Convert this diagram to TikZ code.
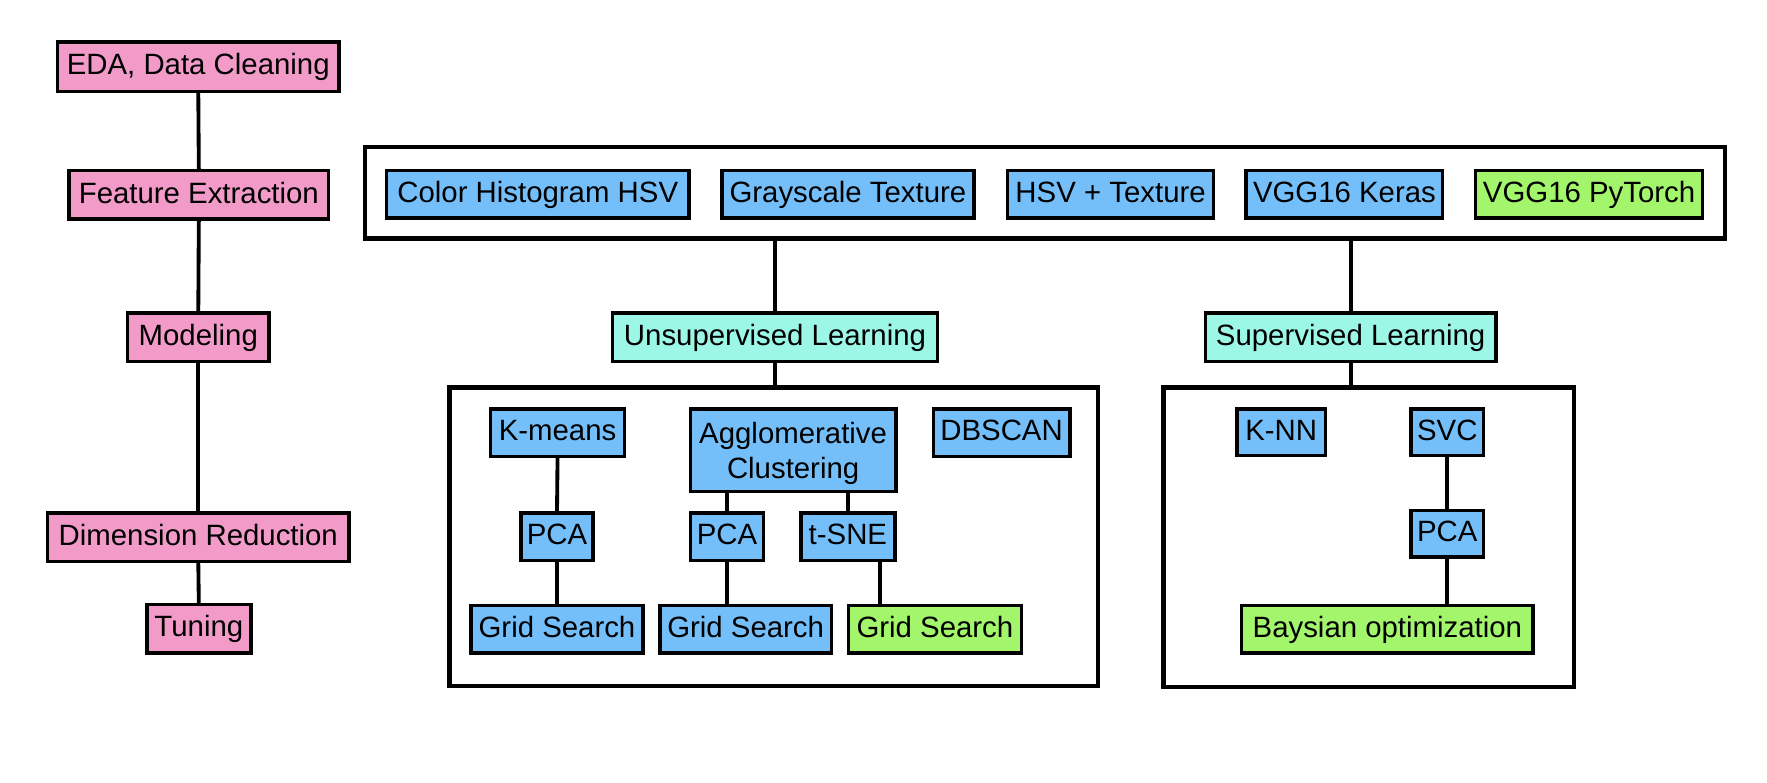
\documentclass[tikz,border=0pt]{standalone}
\usepackage{fontspec}
\setmainfont{Liberation Sans}
\definecolor{pinkc}{HTML}{F29BC9}
\definecolor{bluec}{HTML}{74BFF9}
\definecolor{aquac}{HTML}{9DF7E6}
\definecolor{greenc}{HTML}{A3F56B}
% \bxn{style}{name}{x1}{y1}{x2}{y2}{text}
\newcommand\bxn[7]{\node[#1, minimum width={(#5-#3)*0.5pt}, minimum height={(#6-#4)*0.5pt}] (#2) at ({(#3+#5)/2},{(#4+#6)/2}) {#7};}
\begin{document}
\begin{tikzpicture}[x=0.5pt,y=-0.5pt,
  bx/.style={draw=black, line width=1.5pt, inner sep=0pt, outer sep=0pt,
    font=\fontsize{13}{15.8}\selectfont, text height=0.72em, text depth=0pt},
  pinkbox/.style={bx, fill=pinkc},
  bluebox/.style={bx, fill=bluec},
  aquabox/.style={bx, fill=aquac},
  greenbox/.style={bx, fill=greenc},
  cont/.style={draw=black, line width=2pt, inner sep=0pt, outer sep=0pt},
  link/.style={draw=black, line width=1.7pt}]
\useasboundingbox[fill=white] (0,0) rectangle (1564,693);

% left pipeline
\bxn{pinkbox}{eda}{51}{37}{300}{81}{EDA, Data Cleaning}
\bxn{pinkbox}{fe}{61}{151}{291}{194}{Feature Extraction}
\bxn{pinkbox}{mod}{113}{277}{238}{320}{Modeling}
\bxn{pinkbox}{dr}{42}{454}{309}{497}{Dimension Reduction}
\bxn{pinkbox}{tun}{130}{535}{222}{578}{Tuning}

% feature container
\bxn{cont}{feat}{323}{130}{1527}{211}{}
\bxn{bluebox}{chh}{342}{151}{610}{193}{Color Histogram HSV}
\bxn{bluebox}{gst}{639}{151}{862}{193}{Grayscale Texture}
\bxn{bluebox}{hsvt}{892}{151}{1074}{193}{HSV + Texture}
\bxn{bluebox}{vggk}{1103}{151}{1277}{193}{VGG16 Keras}
\bxn{greenbox}{vggp}{1306}{151}{1507}{193}{VGG16 PyTorch}

% learning types
\bxn{aquabox}{unsup}{542}{277}{830}{320}{Unsupervised Learning}
\bxn{aquabox}{sup}{1067}{277}{1324}{320}{Supervised Learning}

% unsupervised container
\bxn{cont}{ubox}{398}{343}{972}{607}{}
\bxn{bluebox}{km}{434}{362}{553}{404}{K-means}
\node[draw=black, line width=1.5pt, inner sep=0pt, outer sep=0pt, fill=bluec,
  font=\fontsize{13}{15.8}\selectfont, align=center, text depth=0pt,
  minimum width=91pt, minimum height=36.5pt] (agg) at (702,398.5) {Agglomerative\\Clustering};
\bxn{bluebox}{dbs}{826}{362}{947}{404}{DBSCAN}
\bxn{bluebox}{pcaa}{461}{454}{525}{496}{PCA}
\bxn{bluebox}{pcab}{611}{454}{676}{496}{PCA}
\bxn{bluebox}{tsne}{709}{454}{792}{496}{t-SNE}
\bxn{bluebox}{gsa}{417}{536}{569}{578}{Grid Search}
\bxn{bluebox}{gsb}{584}{536}{736}{578}{Grid Search}
\bxn{greenbox}{gsc}{751}{536}{904}{578}{Grid Search}

% supervised container
\bxn{cont}{sbox}{1030}{343}{1393}{608}{}
\bxn{bluebox}{knn}{1095}{362}{1173}{403}{K-NN}
\bxn{bluebox}{svc}{1249}{362}{1313}{403}{SVC}
\bxn{bluebox}{pcac}{1249}{452}{1313}{493}{PCA}
\bxn{greenbox}{bay}{1099}{536}{1357}{578}{Baysian optimization}

% connectors
\draw[link] (eda.south) -- (fe.north);
\draw[link] (fe.south) -- (mod.north);
\draw[link] (mod.south) -- (dr.north);
\draw[link] (dr.south) -- (tun.north);

\draw[link] (unsup.north) -- (unsup.north |- feat.south);
\draw[link] (sup.north) -- (sup.north |- feat.south);
\draw[link] (unsup.south) -- (unsup.south |- ubox.north);
\draw[link] (sup.south) -- (sup.south |- sbox.north);

\draw[link] (km.south) -- (pcaa.north);
\draw[link] (pcaa.south) -- (pcaa.south |- gsa.north);
\draw[link] (pcab.north) -- (pcab.north |- agg.south);
\draw[link] (tsne.north) -- (tsne.north |- agg.south);
\draw[link] (pcab.south) -- (pcab.south |- gsb.north);
\draw[link] ([xshift=14.25pt]tsne.south) -- ([xshift=14.25pt]tsne.south |- gsc.north);

\draw[link] (svc.south) -- (pcac.north);
\draw[link] (pcac.south) -- (pcac.south |- bay.north);
\end{tikzpicture}
\end{document}
